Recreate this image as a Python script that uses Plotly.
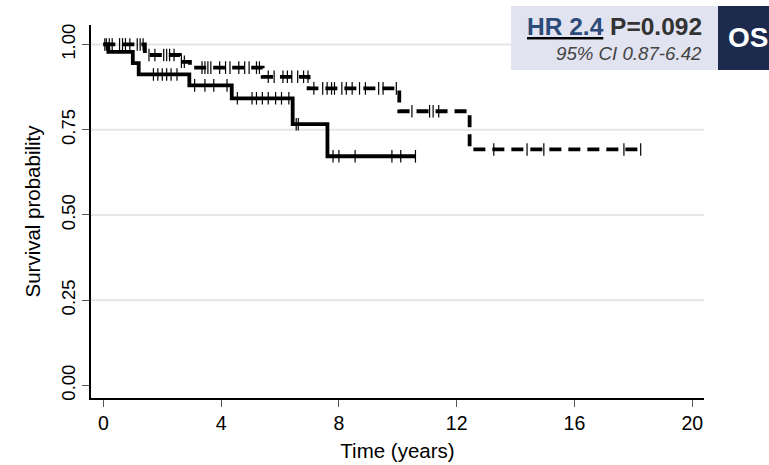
import plotly.graph_objects as go

# Kaplan-Meier step curves (time in years, survival probability)
solid_time = [0, 0.17, 1.0, 1.2, 2.92, 4.36, 6.43, 7.61, 10.6]
solid_surv = [1.0, 0.978, 0.945, 0.912, 0.880, 0.842, 0.766, 0.672, 0.672]

dash_time = [0, 1.41, 2.6, 2.94, 5.41, 6.97, 10.05, 12.44, 18.3]
dash_surv = [1.0, 0.969, 0.949, 0.932, 0.905, 0.871, 0.804, 0.692, 0.692]

# Censoring times
solid_cens = [0.05, 1.7, 1.85, 2.0, 2.15, 2.3, 2.5, 3.1, 3.45, 3.75, 4.2,
              4.55, 5.05, 5.2, 5.4, 5.6, 5.85, 6.05, 6.3, 6.55, 6.62,
              7.8, 8.0, 8.55, 9.8, 10.1, 10.6]
dash_cens = [0.1, 0.2, 0.3, 0.55, 0.65, 0.75, 0.9, 1.15, 1.25, 1.35,
             1.55, 1.75, 2.05, 2.15, 2.25, 2.4, 2.65, 2.75,
             3.35, 3.45, 3.55, 3.65, 3.95, 4.15, 4.3, 4.6, 4.8, 4.95, 5.2, 5.3,
             5.6, 5.8, 6.1, 6.25, 6.4, 6.6, 6.8, 6.95,
             7.15, 7.45, 7.6, 7.75, 7.85, 8.1, 8.25, 8.45, 8.7, 8.9, 9.35, 9.5, 9.95,
             10.48, 11.08, 11.2, 11.39,
             13.26, 14.39, 14.96, 17.68, 18.25]

x_ticks = [0, 4, 8, 12, 16, 20]
y_ticks = [0, 0.25, 0.5, 0.75, 1.0]
y_tick_text = ["0.00", "0.25", "0.50", "0.75", "1.00"]
grid_levels = [0.25, 0.5, 0.75, 1.0]

hr_text = "HR 2.4"
p_text = "P=0.092"
ci_text = "95% CI 0.87-6.42"
badge_text = "OS"


def step_value(times, surv, t):
    val = surv[0]
    for ti, si in zip(times, surv):
        if ti <= t:
            val = si
    return val


FONT = "Liberation Sans, Arial, Helvetica, sans-serif"

fig = go.Figure()

fig.add_trace(go.Scatter(
    x=dash_time, y=dash_surv, mode="lines", line_shape="hv",
    line=dict(color="black", width=3.8, dash="12px,7px"),
    hoverinfo="skip", showlegend=False))
fig.add_trace(go.Scatter(
    x=dash_cens, y=[step_value(dash_time, dash_surv, t) for t in dash_cens],
    mode="markers",
    marker=dict(symbol="line-ns-open", size=9, color="black",
                line=dict(color="black", width=1.2)),
    hoverinfo="skip", showlegend=False))

fig.add_trace(go.Scatter(
    x=solid_time, y=solid_surv, mode="lines", line_shape="hv",
    line=dict(color="black", width=3.8),
    hoverinfo="skip", showlegend=False))
fig.add_trace(go.Scatter(
    x=solid_cens, y=[step_value(solid_time, solid_surv, t) for t in solid_cens],
    mode="markers",
    marker=dict(symbol="line-ns-open", size=9, color="black",
                line=dict(color="black", width=1.2)),
    hoverinfo="skip", showlegend=False))

shapes = []
for g in grid_levels:
    shapes.append(dict(type="line", xref="paper", yref="y", x0=0, x1=1, y0=g, y1=g,
                       line=dict(color="#e6e6e6", width=2), layer="below"))

# statistics box and badge
L, R, T, B = 91, 65, 25, 67
W, H = 769, 465
pw, ph = W - L - R, H - T - B


def px_x(p):
    return (p - L) / pw


def px_y(p):
    return (H - B - p) / ph


shapes.append(dict(type="rect", xref="paper", yref="paper",
                   x0=px_x(511), x1=px_x(718), y0=px_y(70), y1=px_y(6),
                   fillcolor="#e1e3f0", line=dict(width=0), layer="above"))
shapes.append(dict(type="rect", xref="paper", yref="paper",
                   x0=px_x(718), x1=px_x(800), y0=px_y(70), y1=px_y(6),
                   fillcolor="#1c2a4e", line=dict(width=0), layer="above"))

annotations = [
    dict(xref="paper", yref="paper", x=px_x(704), y=px_y(26), xanchor="right", yanchor="middle",
         showarrow=False,
         text=f"<b><u><span style='color:#2d4b78'>{hr_text}</span></u> "
              f"<span style='color:#333333'>{p_text}</span></b>",
         font=dict(family=FONT, size=24.5)),
    dict(xref="paper", yref="paper", x=px_x(704), y=px_y(53), xanchor="right", yanchor="middle",
         showarrow=False, text=f"<i>{ci_text}</i>",
         font=dict(family=FONT, size=18.7, color="#444444")),
    dict(xref="paper", yref="paper", x=px_x(726), y=px_y(37), xanchor="left", yanchor="middle",
         showarrow=False, text=f"<b>{badge_text}</b>",
         font=dict(family=FONT, size=28, color="white")),
]

fig.update_layout(
    width=W, height=H,
    margin=dict(l=L, r=R, t=T, b=B, pad=0),
    paper_bgcolor="white", plot_bgcolor="white",
    font=dict(family=FONT, size=19, color="black"),
    shapes=shapes, annotations=annotations,
    xaxis=dict(range=[-0.42, 20.4], tickvals=x_ticks, ticks="outside", ticklen=7,
               tickcolor="#555555", tickwidth=1, showline=True, linecolor="black",
               linewidth=1.5, showgrid=False, zeroline=False,
               tickfont=dict(size=19.5), automargin=False,
               title=dict(text="Time (years)", font=dict(size=20.5), standoff=10)),
    yaxis=dict(range=[-0.037, 1.057], tickvals=y_ticks, ticktext=y_tick_text,
               tickangle=-90, ticks="outside", ticklen=7, tickcolor="#555555",
               tickwidth=1, showline=True, linecolor="black", linewidth=1.5,
               showgrid=False, zeroline=False, tickfont=dict(size=18.5),
               automargin=False,
               title=dict(text="Survival probability", font=dict(size=20.5), standoff=12)),
)

fig.write_html("out.html")
